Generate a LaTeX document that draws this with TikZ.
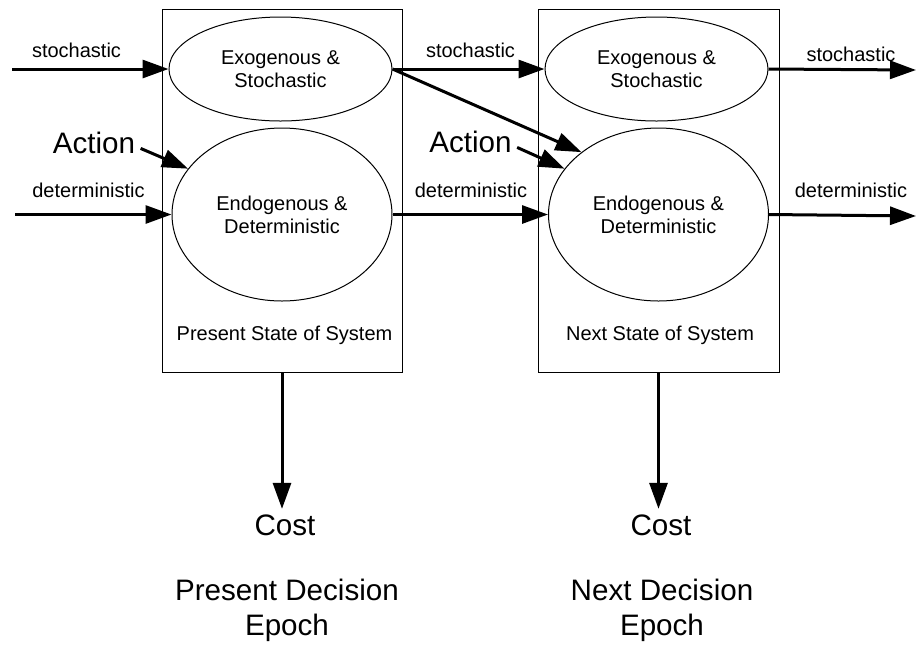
\documentclass[tikz,border=0pt]{standalone}
\usepackage{fontspec}
\setmainfont{Liberation Sans}
\usetikzlibrary{shapes.geometric, arrows.meta}

\begin{document}
\begin{tikzpicture}[x = 0.5pt, y = -0.5pt, line width = 1.5pt, >={Triangle[length=13pt,width=9pt]},
		statebox/.style = {draw, line width = 0.5pt, minimum width = 120pt, minimum height = 181.5pt, inner sep = 0pt},
		oval/.style = {draw, ellipse, line width = 0.5pt, inner sep = 0pt, align = center, font = \fontsize{10}{11.5}\selectfont},
		lbl/.style = {anchor = base, inner sep = 0pt, font = \fontsize{10}{12}\selectfont},
		biglbl/.style = {inner sep = 2pt, align = center, font = \fontsize{14.8}{17.5}\selectfont}]
			\useasboundingbox (0,0) rectangle (916,645);
			\node[statebox] (box1) at (282,190.5) {};
			\node[statebox, minimum width = 120.5pt] (box2) at (658.5,190.5) {};
			\node[oval, minimum width = 111.5pt, minimum height = 52pt] (exo1) at (280.5,69) {Exogenous \&\\Stochastic};
			\node[oval, minimum width = 110pt, minimum height = 86.5pt] (endo1) at (282,214.5) {Endogenous \&\\Deterministic};
			\node[oval, minimum width = 111.5pt, minimum height = 52pt] (exo2) at (656.5,69) {Exogenous \&\\Stochastic};
			\node[oval, minimum width = 110pt, minimum height = 86.5pt] (endo2) at (658.5,214.5) {Endogenous \&\\Deterministic};
			\node[lbl] (present) at (284.5,340) {Present State of System};
			\node[lbl] (next) at (660,340) {Next State of System};
			\node[biglbl, anchor = base] (act1) at (94,153) {Action};
			\node[biglbl, anchor = base] (act2) at (470.5,152) {Action};
			\node[biglbl, anchor = base] (cost1) at (285,535) {Cost};
			\node[biglbl, anchor = base] (cost2) at (661,535) {Cost};
			\node[biglbl] (epoch1) at (287,610) {Present Decision\\Epoch};
			\node[biglbl] (epoch2) at (662,610) {Next Decision\\Epoch};
			\node[lbl] (sto1) at (76.5,57) {stochastic};
			\node[lbl] (sto2) at (470.5,57) {stochastic};
			\node[lbl] (sto3) at (851,61) {stochastic};
			\node[lbl] (det1) at (88.5,197) {deterministic};
			\node[lbl] (det2) at (471,197) {deterministic};
			\node[lbl] (det3) at (851,197) {deterministic};
			\coordinate (sin) at (12,69);
			\coordinate (din) at (15,214.5);
			\coordinate (sout) at (916,70);
			\coordinate (dout) at (916,216);
			\draw [->] (sin) -- (exo1.west);
			\draw [->] (din) -- (endo1.west);
			\draw [->] (exo1.east) -- (exo2.west);
			\draw [->] (exo1.east) -- (endo2.141);
			\draw [->] (endo1.east) -- (endo2.west);
			\draw [->] (exo2.east) -- (sout);
			\draw [->] (endo2.east) -- (dout);
			\draw [->] ([yshift=-3pt]act1.east) -- (endo1.154);
			\draw [->] ([yshift=-3pt]act2.east) -- (endo2.154);
			\draw [->] (box1.south) -- (box1.south |- cost1.north);
			\draw [->] (box2.south) -- (box2.south |- cost2.north);
			\end{tikzpicture}
\end{document}
